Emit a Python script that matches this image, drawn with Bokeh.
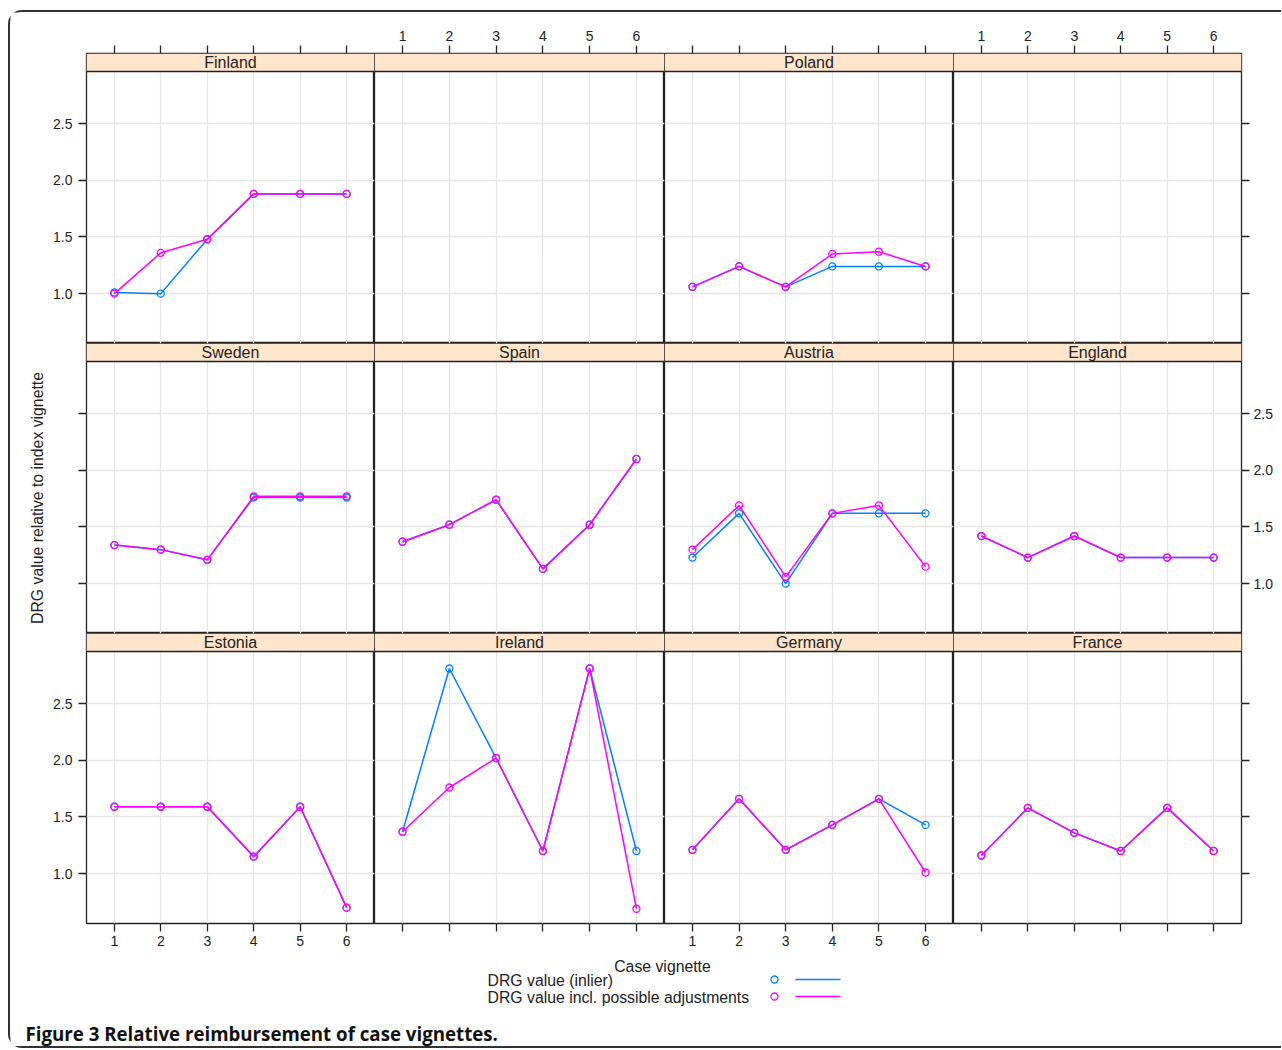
import math
from bokeh.plotting import figure
from bokeh.layouts import row, column
from bokeh.models import Range1d, FixedTicker, Grid, LinearAxis, PrintfTickFormatter, Span, CustomJSTickFormatter
from bokeh.core.properties import value
from bokeh.embed import file_html
from bokeh.resources import INLINE

# ---------------- data ----------------
VIGNETTES = [1, 2, 3, 4, 5, 6]
X_TICK_LABELS = ["1", "2", "3", "4", "5", "6"]
Y_TICKS = [1.0, 1.5, 2.0, 2.5]

PANELS = ["Finland", "", "Poland", "",
          "Sweden", "Spain", "Austria", "England",
          "Estonia", "Ireland", "Germany", "France"]

finland_inlier = [1.01, 1.00, 1.48, 1.88, 1.88, 1.88]
finland_adj = [1.00, 1.36, 1.48, 1.88, 1.88, 1.88]
poland_inlier = [1.06, 1.24, 1.06, 1.24, 1.24, 1.24]
poland_adj = [1.06, 1.24, 1.06, 1.35, 1.37, 1.24]
sweden_inlier = [1.34, 1.30, 1.21, 1.76, 1.76, 1.76]
sweden_adj = [1.34, 1.30, 1.21, 1.77, 1.77, 1.77]
spain_inlier = [1.37, 1.52, 1.74, 1.13, 1.52, 2.10]
spain_adj = [1.37, 1.52, 1.74, 1.13, 1.52, 2.10]
austria_inlier = [1.23, 1.62, 1.00, 1.62, 1.62, 1.62]
austria_adj = [1.30, 1.69, 1.06, 1.62, 1.69, 1.15]
england_inlier = [1.42, 1.23, 1.42, 1.23, 1.23, 1.23]
england_adj = [1.42, 1.23, 1.42, 1.23, 1.23, 1.23]
estonia_inlier = [1.59, 1.59, 1.59, 1.15, 1.59, 0.70]
estonia_adj = [1.59, 1.59, 1.59, 1.15, 1.59, 0.70]
ireland_inlier = [1.37, 2.81, 2.02, 1.20, 2.81, 1.20]
ireland_adj = [1.37, 1.76, 2.02, 1.20, 2.81, 0.69]
germany_inlier = [1.21, 1.66, 1.21, 1.43, 1.66, 1.43]
germany_adj = [1.21, 1.66, 1.21, 1.43, 1.66, 1.01]
france_inlier = [1.16, 1.58, 1.36, 1.20, 1.58, 1.20]
france_adj = [1.16, 1.58, 1.36, 1.20, 1.58, 1.20]

INLIER = {"Finland": finland_inlier, "Poland": poland_inlier, "Sweden": sweden_inlier,
          "Spain": spain_inlier, "Austria": austria_inlier, "England": england_inlier,
          "Estonia": estonia_inlier, "Ireland": ireland_inlier, "Germany": germany_inlier,
          "France": france_inlier}
ADJUSTED = {"Finland": finland_adj, "Poland": poland_adj, "Sweden": sweden_adj,
            "Spain": spain_adj, "Austria": austria_adj, "England": england_adj,
            "Estonia": estonia_adj, "Ireland": ireland_adj, "Germany": germany_adj,
            "France": france_adj}

SERIES_NAMES = ["DRG value (inlier)", "DRG value incl. possible adjustments"]
SERIES_COLORS = ["#0080ff", "#ff00ff"]
XLAB = "Case vignette"
YLAB = "DRG value relative to index vignette"
CAPTION = "Figure 3 Relative reimbursement of case vignettes."

# ---------------- layout / style ----------------
FONT = "Liberation Sans"
INK = "#222222"
GRID_COL = "#e6e6e6"
STRIP_COL = "#ffe5cc"

FRAME_W = [288, 290, 289, 288]
PANEL_H = 272
STRIP_H = 18
FRAME_H = PANEL_H + STRIP_H
YLAB_W = 40
LEFT_B, RIGHT_B, TOP_B, BOTTOM_B = 36, 40, 41, 30
X0, X1 = 0.4, 6.6
Y0, YTOP = 0.56, 2.96
YEND = YTOP + (YTOP - Y0) * STRIP_H / PANEL_H
TOTAL_W = YLAB_W + LEFT_B + sum(FRAME_W) + RIGHT_B
GRID_H = TOP_B + 3 * FRAME_H + BOTTOM_B
BOTTOM_H = 93


def style_axis(ax, labeled, standoff):
    ax.axis_line_color = None
    ax.major_tick_out = 8
    ax.major_tick_in = 0
    ax.minor_tick_out = 0
    ax.minor_tick_in = 0
    ax.major_tick_line_color = INK
    ax.major_tick_line_width = 1.3
    ax.major_label_text_font = FONT
    ax.major_label_text_font_size = "14px"
    ax.major_label_text_color = INK
    ax.major_label_standoff = standoff
    if not labeled:
        ax.formatter = CustomJSTickFormatter(code="return ''")
    return ax


def x_axis(labeled, standoff):
    if labeled:
        ax = LinearAxis(ticker=FixedTicker(ticks=VIGNETTES),
                        major_label_overrides=dict(zip(VIGNETTES, X_TICK_LABELS)))
    else:
        ax = LinearAxis(ticker=FixedTicker(ticks=VIGNETTES))
    return style_axis(ax, labeled, standoff)


def y_axis(labeled, standoff):
    ax = LinearAxis(ticker=FixedTicker(ticks=Y_TICKS),
                    formatter=PrintfTickFormatter(format="%.1f"))
    return style_axis(ax, labeled, standoff)


def blank_fig(w, h, xr, yr):
    f = figure(width=w, height=h, x_range=xr, y_range=yr,
               output_backend="svg", toolbar_location=None,
               x_axis_location=None, y_axis_location=None, min_border=0)
    f.grid.visible = False
    f.outline_line_color = None
    return f


def panel(r, c, name):
    w = FRAME_W[c] + (LEFT_B if c == 0 else 0) + (RIGHT_B if c == 3 else 0)
    h = FRAME_H + (TOP_B if r == 0 else 0) + (BOTTOM_B if r == 2 else 0)
    p = figure(width=w, height=h, x_range=Range1d(X0, X1), y_range=Range1d(Y0, YEND),
               output_backend="svg", toolbar_location=None,
               x_axis_location=None, y_axis_location=None,
               min_border=0,
               min_border_left=LEFT_B if c == 0 else 0,
               min_border_right=RIGHT_B if c == 3 else 0,
               min_border_top=TOP_B if r == 0 else 0,
               min_border_bottom=BOTTOM_B if r == 2 else 0)
    p.grid.visible = False
    p.outline_line_color = INK
    p.outline_line_width = 1.3
    p.background_fill_color = "white"
    p.border_fill_color = "white"
    p.add_layout(Grid(dimension=0, ticker=FixedTicker(ticks=VIGNETTES),
                      grid_line_color=GRID_COL, grid_line_width=1.3))
    p.add_layout(Grid(dimension=1, ticker=FixedTicker(ticks=Y_TICKS),
                      grid_line_color=GRID_COL, grid_line_width=1.3))
    if r == 0:
        p.add_layout(x_axis(c in (1, 3), 5), "above")
    if r == 2:
        p.add_layout(x_axis(c in (0, 2), 4), "below")
    if c == 0:
        p.add_layout(y_axis(r in (0, 2), 6), "left")
    if c == 3:
        p.add_layout(y_axis(r == 1, 4), "right")

    # strip
    p.quad(left=[X0], right=[X1], bottom=[YTOP], top=[YEND],
           fill_color=STRIP_COL, line_color=None)
    p.add_layout(Span(location=YTOP, dimension="width", line_color=INK, line_width=1.3))
    if name:
        p.text(x=[(X0 + X1) / 2], y=[(YTOP + YEND) / 2], text=[name],
               text_align="center", text_baseline="middle",
               text_font=value(FONT), text_font_size="16px", text_color=INK)
        for vals, col in zip([INLIER[name], ADJUSTED[name]], SERIES_COLORS):
            p.line(VIGNETTES, vals, line_color=col, line_width=1.5)
            p.scatter(VIGNETTES, vals, marker="circle", size=7, fill_color=None,
                      line_color=col, line_width=1.3)
    return p


rows = []
for r in range(3):
    rows.append(row([panel(r, c, PANELS[r * 4 + c]) for c in range(4)]))
grid = column(rows)

# y label
ylab = blank_fig(YLAB_W, GRID_H, Range1d(0, YLAB_W), Range1d(0, GRID_H))
ylab.text(x=[27], y=[GRID_H - 485.5], text=[YLAB], angle=math.pi / 2,
          text_align="center", text_baseline="middle",
          text_font=value(FONT), text_font_size="15.8px", text_color=INK)

# bottom: x label, legend, caption
bot = blank_fig(TOTAL_W, BOTTOM_H, Range1d(0, TOTAL_W), Range1d(BOTTOM_H, 0))
bot.text(x=[652], y=[13], text=[XLAB], text_align="center", text_baseline="middle",
         text_font=value(FONT), text_font_size="15.8px", text_color=INK)
leg_y = [27, 44]
bot.text(x=[477, 477], y=leg_y, text=SERIES_NAMES, text_align="left", text_baseline="middle",
         text_font=value(FONT), text_font_size="15.8px", text_color=INK)
bot.scatter(x=[764, 764], y=[v - 1 for v in leg_y], marker="circle", size=7, fill_color=None,
            line_color=SERIES_COLORS, line_width=1.3)
bot.segment(x0=[785, 785], x1=[830, 830], y0=[v - 1 for v in leg_y], y1=[v - 1 for v in leg_y],
            line_color=SERIES_COLORS, line_width=1.6)
bot.text(x=[15], y=[80], text=[CAPTION], text_align="left", text_baseline="middle",
         text_font=value("Open Sans"), text_font_style="bold", text_font_size="18.7px",
         text_color="#111111")

layout = column(row(ylab, grid), bot, margin=(10, 0, 0, 8),
                styles={"border-left": "2px solid #333", "border-top": "2px solid #333",
                        "border-bottom": "2px solid #333",
                        "border-top-left-radius": "14px", "border-bottom-left-radius": "14px"})

open("out.html", "w").write(file_html(layout, INLINE))
